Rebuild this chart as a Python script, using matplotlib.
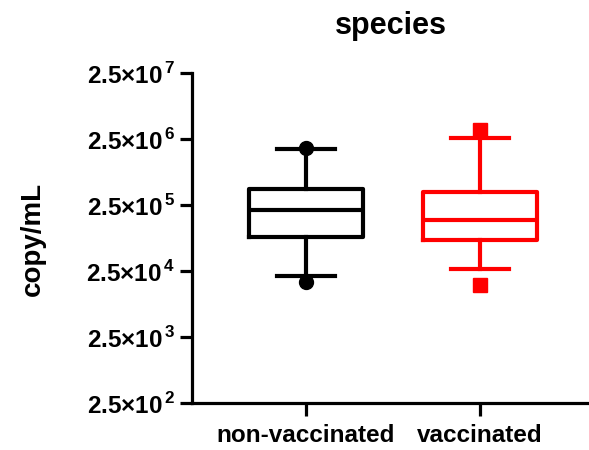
import matplotlib.pyplot as plt
from matplotlib.ticker import FixedLocator, FixedFormatter, NullLocator

plt.rcParams['font.family'] = ['Liberation Sans', 'DejaVu Sans']
plt.rcParams['mathtext.fontset'] = 'custom'
plt.rcParams['mathtext.rm'] = 'Liberation Sans:bold'
plt.rcParams['mathtext.bf'] = 'Liberation Sans:bold'

groups = ['non-vaccinated', 'vaccinated']
colors = ['black', '#FF0000']
markers = ['o', 's']

q1 = [8.2e4, 7.4e4]
median = [2.1e5, 1.5e5]
q3 = [4.4e5, 3.9e5]
whislo = [2.1e4, 2.7e4]
whishi = [1.76e6, 2.6e6]
fliers = [[1.8e6, 1.7e4], [3.4e6, 1.55e4]]

ytick_vals = [2.5e2, 2.5e3, 2.5e4, 2.5e5, 2.5e6, 2.5e7]
ytick_labels = ['2.5×10$^{\\,\\mathbf{%d}}$' % e for e in [2, 3, 4, 5, 6, 7]]

fig = plt.figure(figsize=(5.89, 4.5), dpi=100)
ax = fig.add_axes([0.326, 0.1044, 0.674, 0.7333])

for i, g in enumerate(groups):
    st = [dict(med=median[i], q1=q1[i], q3=q3[i], whislo=whislo[i],
               whishi=whishi[i], fliers=fliers[i], label=g)]
    c = colors[i]
    ax.bxp(st, positions=[i], widths=0.655, capwidths=0.33,
           boxprops=dict(color=c, linewidth=3),
           medianprops=dict(color=c, linewidth=3),
           whiskerprops=dict(color=c, linewidth=3),
           capprops=dict(color=c, linewidth=3),
           flierprops=dict(marker=markers[i], markerfacecolor=c,
                           markeredgecolor=c, markersize=10, linestyle='none'))

ax.set_yscale('log')
ax.set_ylim(2.5e2, 2.5e7)
ax.set_xlim(-0.655, 1.626)
ax.yaxis.set_major_locator(FixedLocator(ytick_vals))
ax.yaxis.set_major_formatter(FixedFormatter(ytick_labels))
ax.yaxis.set_minor_locator(NullLocator())
ax.set_xticks([0, 1])
ax.set_xticklabels(groups, fontsize=17.5, fontweight='bold')

for lab in ax.get_yticklabels():
    lab.set_fontsize(17.5)
    lab.set_fontweight('bold')

ax.spines['top'].set_visible(False)
ax.spines['right'].set_visible(False)
ax.spines['left'].set_linewidth(2.3)
ax.spines['bottom'].set_linewidth(2.3)
ax.tick_params(axis='both', length=9, width=2.3, direction='out')
ax.tick_params(axis='x', pad=6)
ax.tick_params(axis='y', pad=3)

fig.text(33 / 589, 1 - 239 / 450, 'copy/mL', rotation=90, ha='center',
         va='center', fontsize=20, fontweight='bold')
ax.set_title('species', fontsize=22, fontweight='bold', pad=28)

fig.savefig('out.png', dpi=100)
